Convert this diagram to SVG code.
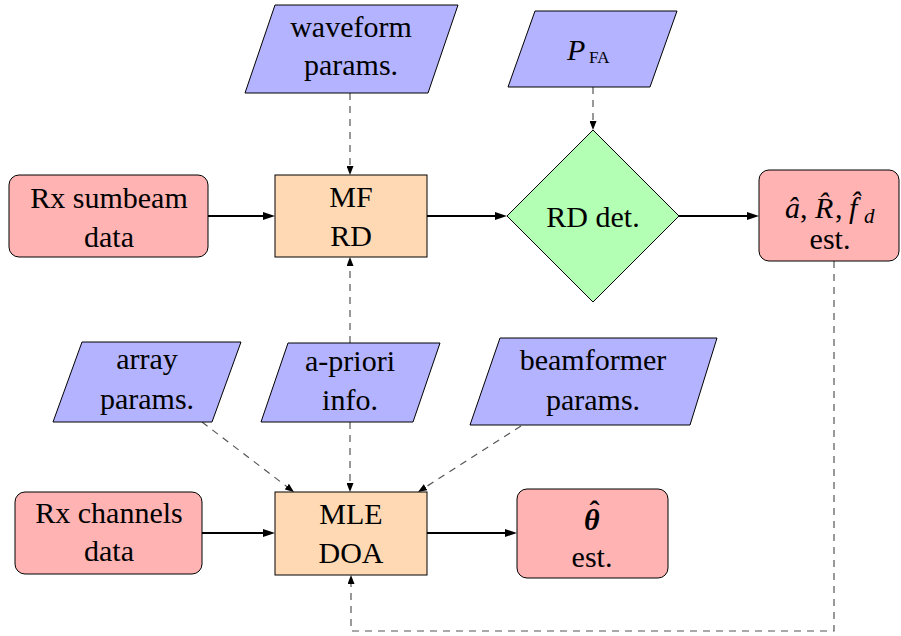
<svg xmlns="http://www.w3.org/2000/svg" width="901" height="636" viewBox="0 0 901 636">
<defs>
<style>
text{font-family:'Liberation Serif','DejaVu Serif',serif;font-size:30px;fill:#000;text-anchor:middle}
.it{font-style:italic}
.par{fill:#b3b3ff;stroke:#000;stroke-width:1}
.proc{fill:#ffd9b3;stroke:#000;stroke-width:1}
.io{fill:#ffb3b3;stroke:#000;stroke-width:1}
.dec{fill:#b3ffb3;stroke:#000;stroke-width:1}
.solid{fill:none;stroke:#000;stroke-width:2;marker-end:url(#ah)}
.dash{fill:none;stroke:#555;stroke-width:1.2;stroke-dasharray:7,6;marker-end:url(#ahd)}
</style>
<marker id="ah" markerUnits="userSpaceOnUse" markerWidth="12" markerHeight="8" refX="6" refY="4" orient="auto">
<path d="M0,0 L12,4 L0,8 Z" fill="#000"/>
</marker>
<marker id="ahd" markerUnits="userSpaceOnUse" markerWidth="9" markerHeight="7" refX="5" refY="3.5" orient="auto">
<path d="M0,0 L9,3.5 L0,7 Z" fill="#000"/>
</marker>
</defs>
<rect width="901" height="636" fill="#fff"/>

<g id="connectors">
<path class="solid" d="M208,216 H269"/>
<path class="solid" d="M427,216 H501"/>
<path class="solid" d="M679,216 H753"/>
<path class="solid" d="M202,533 H269"/>
<path class="solid" d="M427,533 H511"/>
<path class="dash" d="M350,93 V171"/>
<path class="dash" d="M593,87 V126"/>
<path class="dash" d="M350,343 V261"/>
<path class="dash" d="M350,422 V488"/>
<path class="dash" d="M202,422 L290.8,489.6"/>
<path class="dash" d="M521,426 L421.4,489.8"/>
<path class="dash" d="M834,261 V631 H351 V579"/>
</g>

<g id="waveform">
<polygon class="par" points="275,5 458,5 428,93 245,93"/>
<text x="351" y="37">waveform</text>
<text x="351" y="75">params.</text>
</g>

<g id="pfa">
<polygon class="par" points="535,11 677,11 650,87 508,87"/>
<text x="567" y="60" style="text-anchor:start"><tspan class="it">P</tspan><tspan x="589" y="63" style="font-size:17px">FA</tspan></text>
</g>

<g id="sumbeam">
<rect class="io" x="9" y="175" width="199" height="82" rx="10"/>
<text x="109" y="208">Rx sumbeam</text>
<text x="109" y="247">data</text>
</g>

<g id="mfrd">
<rect class="proc" x="275" y="175" width="152" height="82"/>
<text x="351" y="207">MF</text>
<text x="351" y="246">RD</text>
</g>

<g id="rddet">
<path class="dec" d="M593,130 L679,216 L593,302 L507,216 Z"/>
<text x="593" y="227">RD det.</text>
</g>

<g id="est1">
<rect class="io" x="759" y="170" width="140" height="91" rx="10"/>
<text x="785" y="218" style="text-anchor:start"><tspan class="it">â</tspan><tspan x="800">,</tspan><tspan class="it" x="815">R̂</tspan><tspan x="835">,</tspan><tspan class="it" x="849">f̂</tspan><tspan class="it" x="864" y="223" style="font-size:21px">d</tspan></text>
<text x="830" y="249">est.</text>
</g>

<g id="array">
<polygon class="par" points="82,342 241,342 212,422 53,422"/>
<text x="147" y="369">array</text>
<text x="147" y="409">params.</text>
</g>

<g id="apriori">
<polygon class="par" points="288,343 440,343 413,422 261,422"/>
<text x="350" y="371">a-priori</text>
<text x="350" y="410">info.</text>
</g>

<g id="beamformer">
<polygon class="par" points="500,338 717,338 690,425 470,425"/>
<text x="593" y="370">beamformer</text>
<text x="593" y="410">params.</text>
</g>

<g id="channels">
<rect class="io" x="15" y="492" width="187" height="82" rx="10"/>
<text x="109" y="523">Rx channels</text>
<text x="109" y="561">data</text>
</g>

<g id="mledoa">
<rect class="proc" x="275" y="492" width="152" height="83"/>
<text x="351" y="524">MLE</text>
<text x="351" y="563">DOA</text>
</g>

<g id="thetaest">
<rect class="io" x="517" y="489" width="151" height="89" rx="10"/>
<text x="584" y="530" style="text-anchor:start;font-weight:bold;font-style:italic">θ<tspan dx="-10" dy="-9" style="font-style:normal">ˆ</tspan></text>
<text x="592" y="567">est.</text>
</g>
</svg>
